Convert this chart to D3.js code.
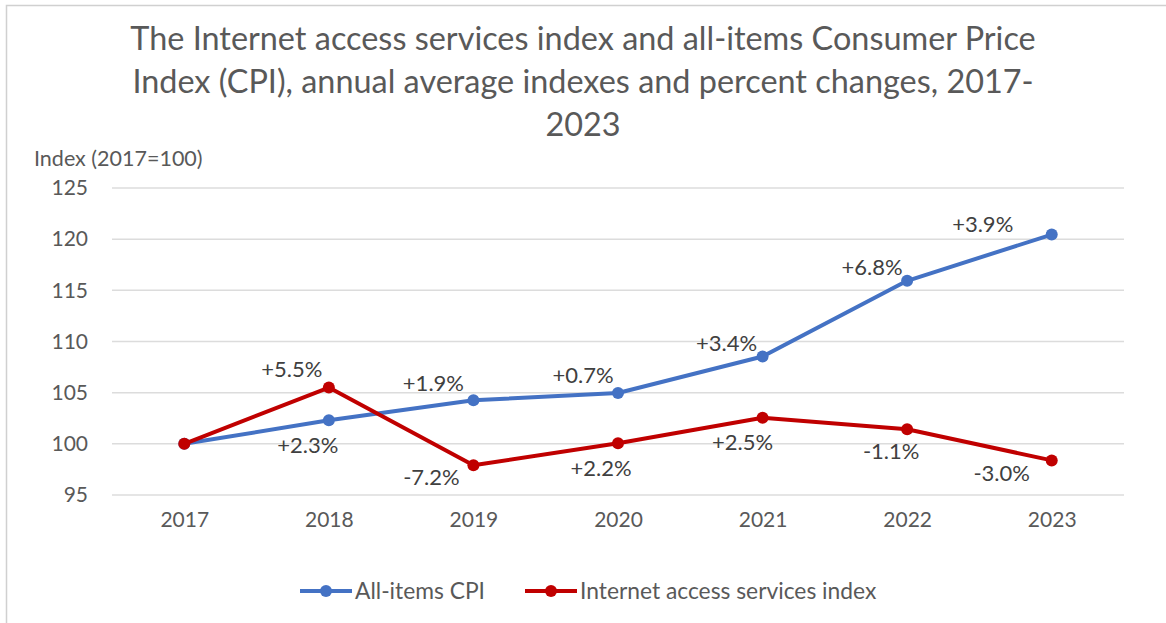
<!DOCTYPE html>
<html>
<head>
<meta charset="utf-8">
<script src="https://cdn.jsdelivr.net/npm/d3@7"></script>
<style>
  html, body { margin: 0; padding: 0; background: #fff; }
  svg { display: block; font-family: Lato, "Open Sans", sans-serif; }
</style>
</head>
<body>
<svg id="chart" width="1166" height="623"></svg>
<script>
// Annual average indexes, 2017 = 100
const years = ["2017", "2018", "2019", "2020", "2021", "2022", "2023"];
const cpiIndex = [100, 102.3, 104.25, 104.97, 108.54, 115.93, 120.45];
const internetIndex = [100, 105.5, 97.9, 100.05, 102.55, 101.42, 98.38];
// Year-over-year percent changes shown next to the points
const cpiChange = [null, "+2.3%", "+1.9%", "+0.7%", "+3.4%", "+6.8%", "+3.9%"];
const internetChange = [null, "+5.5%", "-7.2%", "+2.2%", "+2.5%", "-1.1%", "-3.0%"];
const yTicks = [95, 100, 105, 110, 115, 120, 125];
const seriesNames = ["All-items CPI", "Internet access services index"];
const titleLines = [
  "The Internet access services index and all-items Consumer Price",
  "Index (CPI), annual average indexes and percent changes, 2017-",
  "2023"
];

// label placement relative to each point (pixels)
const cpiLabelOffset = [null, [-21, 25], [-40, -17], [-35, -18], [-36, -13], [-35, -14], [-69, -10]];
const internetLabelOffset = [null, [-37, -18], [-42, 12], [-17, 25], [-20, 25], [-16, 22], [-50, 13]];

const colors = { cpi: "#4472C4", internet: "#C00000" };
const textColor = "#595959";

const svg = d3.select("#chart");

// outer frame
svg.append("rect")
  .attr("x", 6.5).attr("y", 5.5)
  .attr("width", 1300).attr("height", 800)
  .attr("fill", "none").attr("stroke", "#d0d0d0").attr("stroke-width", 1.5);

// title
const title = svg.append("g").attr("fill", textColor).attr("text-anchor", "middle");
titleLines.forEach((line, i) => {
  title.append("text")
    .attr("x", 583).attr("y", 50 + i * 43)
    .attr("font-size", 29)
    .text(line);
});
// scale the title so the first line spans its intended width
const firstLine = title.select("text").node();
const fs = 29 * 906 / firstLine.getComputedTextLength();
title.selectAll("text").attr("font-size", fs);

const x = d3.scalePoint().domain(years).range([112, 1124]).padding(0.5);
const y = d3.scaleLinear().domain([95, 125]).range([495, 188]);

// gridlines
svg.append("g")
  .selectAll("line")
  .data(yTicks)
  .join("line")
  .attr("x1", 112).attr("x2", 1124)
  .attr("y1", d => y(d)).attr("y2", d => y(d))
  .attr("stroke", "#dcdcdc").attr("stroke-width", 1.5);

// y axis
const yAxis = svg.append("g")
  .attr("transform", "translate(88,0)")
  .call(d3.axisLeft(y).tickValues(yTicks).tickSize(0).tickPadding(0));
yAxis.select(".domain").remove();
yAxis.selectAll("text")
  .attr("fill", textColor)
  .attr("font-family", "Lato, 'Open Sans', sans-serif")
  .attr("font-size", 21);

// x axis
const xAxis = svg.append("g")
  .attr("transform", "translate(0,512)")
  .call(d3.axisBottom(x).tickSize(0).tickPadding(0));
xAxis.select(".domain").remove();
xAxis.selectAll("text")
  .attr("fill", textColor)
  .attr("font-family", "Lato, 'Open Sans', sans-serif")
  .attr("font-size", 21);

// axis title
svg.append("text")
  .attr("x", 34).attr("y", 166)
  .attr("fill", textColor)
  .attr("font-size", 21.5)
  .text("Index (2017=100)");

// series
const series = [
  { key: "cpi", values: cpiIndex, labels: cpiChange, offsets: cpiLabelOffset },
  { key: "internet", values: internetIndex, labels: internetChange, offsets: internetLabelOffset }
];

const line = d3.line()
  .x((d, i) => x(years[i]))
  .y(d => y(d));

series.forEach(s => {
  const g = svg.append("g");
  g.append("path")
    .datum(s.values)
    .attr("d", line)
    .attr("fill", "none")
    .attr("stroke", colors[s.key])
    .attr("stroke-width", 4)
    .attr("stroke-linejoin", "round")
    .attr("stroke-linecap", "round");
  g.selectAll("circle")
    .data(s.values)
    .join("circle")
    .attr("cx", (d, i) => x(years[i]))
    .attr("cy", d => y(d))
    .attr("r", 6)
    .attr("fill", colors[s.key]);
});

// percent change labels
series.forEach(s => {
  svg.append("g")
    .selectAll("text")
    .data(s.values.map((v, i) => ({ v, i, label: s.labels[i], off: s.offsets[i] })).filter(d => d.label))
    .join("text")
    .attr("x", d => x(years[d.i]) + d.off[0])
    .attr("y", d => y(d.v) + d.off[1])
    .attr("dy", "0.35em")
    .attr("text-anchor", "middle")
    .attr("fill", "#404040")
    .attr("font-size", 22)
    .text(d => d.label);
});

// legend
const legendItems = [
  { key: "cpi", name: seriesNames[0], x: 300 },
  { key: "internet", name: seriesNames[1], x: 525 }
];
const legend = svg.append("g").attr("transform", "translate(0,591)");
legendItems.forEach(item => {
  const g = legend.append("g").attr("transform", `translate(${item.x},0)`);
  g.append("line")
    .attr("x1", 0).attr("x2", 52)
    .attr("stroke", colors[item.key]).attr("stroke-width", 4);
  g.append("circle").attr("cx", 26).attr("r", 6).attr("fill", colors[item.key]);
  g.append("text")
    .attr("x", 55).attr("dy", "0.35em")
    .attr("fill", textColor)
    .attr("font-size", 22.8)
    .text(item.name);
});
</script>
</body>
</html>
